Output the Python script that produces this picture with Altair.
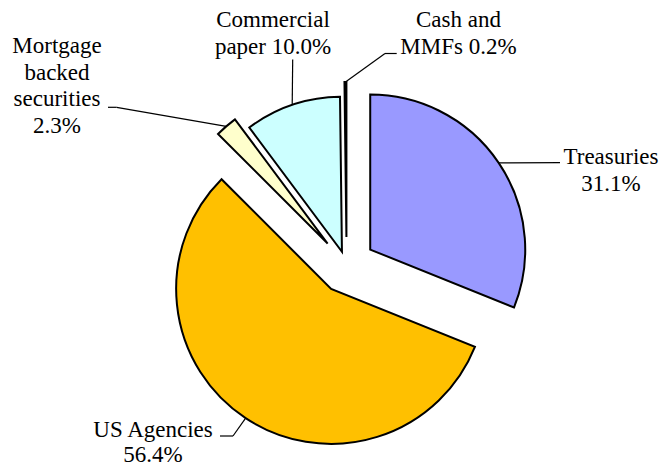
import math
import altair as alt
import pandas as pd

# ---- data ----
categories = ["Treasuries", "US Agencies", "Mortgage backed securities", "Commercial paper", "Cash and MMFs"]
values = [31.1, 56.4, 2.3, 10.0, 0.2]
label_heads = [["Treasuries"], ["US Agencies"], ["Mortgage", "backed", "securities"], ["Commercial", "paper"], ["Cash and", "MMFs"]]
pct_on_new_line = [True, True, True, False, False]

# ---- style / layout ----
colors = ["#9999FF", "#FFC000", "#FFFFCC", "#CCFFFF", "#000000"]
explode = [28.5, 28.0, 29.0, 14.5, 28.5]
RADIUS = 155
CX, CY = 338.6, 257.5
line_h = [27.5, 25, 26.5, 26.5, 26.5]
# label anchor: (center x, first-line baseline y)
label_pos = [(603, 155.5), (145, 429), (49, 45.3), (265, 19), (450.5, 19)]
# leader line: elbow and end points
leader_elbow = [(552, 154.7), (225, 428), (108.7, 99.3), (284.7, 51.5), (377, 45.5)]
leader_end = [(552, 154.7), (212, 428), (100, 99.3), (284.7, 51.5), (388.7, 45.5)]

total = sum(values)
rows, rules, texts = [], [], []
cum = 0.0
for i, (c, v) in enumerate(zip(categories, values)):
    t0, t1 = cum, cum + v
    cum = t1
    mid = (t0 + t1) / 2 / total * 2 * math.pi
    cx = CX + explode[i] * math.sin(mid)
    cy = CY - explode[i] * math.cos(mid)
    ax = cx + RADIUS * math.sin(mid)
    ay = cy - RADIUS * math.cos(mid)
    rows.append(dict(cat=c, value=v, t0=t0, t1=t1, cx=cx, cy=cy))
    pct = f"{v:.1f}%"
    lines = list(label_heads[i])
    if pct_on_new_line[i]:
        lines.append(pct)
    else:
        lines[-1] = lines[-1] + " " + pct
    for k, ln in enumerate(lines):
        texts.append(dict(cat=c, text=ln, lx=label_pos[i][0], ly=label_pos[i][1] + k * line_h[i]))
    ex, ey = leader_elbow[i]
    nx, ny = leader_end[i]
    rules.append(dict(cat=c, x=ax, y=ay, x2=ex, y2=ey))
    if (ex, ey) != (nx, ny):
        rules.append(dict(cat=c, x=ex, y=ey, x2=nx, y2=ny))

df = pd.DataFrame(rows)
rdf = pd.DataFrame(rules)
tdf = pd.DataFrame(texts)

arcs = alt.Chart(df).mark_arc(outerRadius=RADIUS, stroke="black", strokeWidth=2, strokeJoin="miter").encode(
    theta=alt.Theta("t0:Q", stack=False, scale=alt.Scale(domain=[0, total], range=[0, 2 * math.pi])),
    theta2="t1:Q",
    x=alt.X("cx:Q", scale=None),
    y=alt.Y("cy:Q", scale=None),
    color=alt.Color("cat:N", scale=alt.Scale(domain=categories, range=colors), legend=None),
)

leaders = alt.Chart(rdf).mark_rule(color="black", strokeWidth=1.2).encode(
    x=alt.X("x:Q", scale=None),
    y=alt.Y("y:Q", scale=None),
    x2="x2:Q",
    y2="y2:Q",
)

labels = alt.Chart(tdf).mark_text(
    font="Liberation Serif", fontSize=23, align="center", baseline="alphabetic", color="black",
).encode(
    x=alt.X("lx:Q", scale=None),
    y=alt.Y("ly:Q", scale=None),
    text="text:N",
)

chart = alt.layer(arcs, leaders, labels).properties(
    width=651, height=460, autosize=alt.AutoSizeParams(type="none"), padding=0,
    background="white",
).configure_view(stroke=None)

chart.save("out.html", embed_options={"renderer": "svg", "actions": False})
